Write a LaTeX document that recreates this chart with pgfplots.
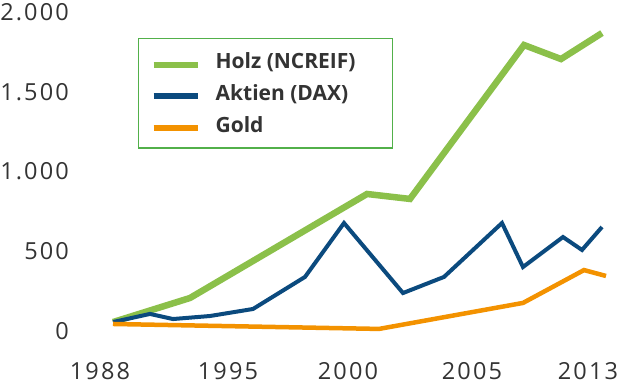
\documentclass[border=0pt]{standalone}
\usepackage{fontspec}
\setmainfont{Open Sans}
\newfontfamily\tickfont{Open Sans}[LetterSpace=9]
\usepackage{pgfplots}
\pgfplotsset{compat=1.18}
\definecolor{holz}{HTML}{8BC04A}
\definecolor{aktien}{HTML}{0B4A7E}
\definecolor{gold}{HTML}{F39200}
\definecolor{legbox}{HTML}{52B04A}
\definecolor{txt}{HTML}{333333}
\begin{document}
\begin{tikzpicture}
\useasboundingbox (0,0) rectangle (630bp,384bp);
\begin{axis}[
  at={(100bp,53bp)}, anchor=south west,
  scale only axis, width=512bp, height=319bp,
  xmin=100, xmax=612, ymin=0, ymax=2000,
  clip=false,
  axis line style={draw=none},
  major tick length=0pt,
  tick style={draw=none},
  xtick={100,228,348,472,588},
  xticklabels={1988,1995,2000,2005,2013},
  ytick={0,500,1000,1500,2000},
  yticklabels={0,500,1.000,1.500,2.000},
  xticklabel style={anchor=north, inner sep=0pt, yshift=-31bp, font=\tickfont\fontsize{23.5bp}{24bp}\selectfont, text=txt},
  yticklabel style={anchor=east, inner sep=0pt, xshift=-31bp, font=\tickfont\fontsize{23.5bp}{24bp}\selectfont, text=txt},
  legend cell align=left,
  legend image code/.code={\draw[#1, line width=6bp] (0bp,-3bp) -- (44bp,-3bp);},
  legend style={at={(0.0742,0.918)}, anchor=north west, draw=legbox, line width=1.3bp,
    font=\bfseries\fontsize{21bp}{22bp}\selectfont, text=txt,
    inner xsep=12bp, inner ysep=12bp, row sep=10.5bp,
    /tikz/every odd column/.style={column sep=13bp}},
]
\addplot[holz, line width=6.5bp, line join=miter] coordinates {
 (113,56) (190,207) (367,859) (410,828) (524,1793) (561,1705) (602,1868)};
\addlegendentry{Holz (NCREIF)\hspace*{23bp}}
\addplot[aktien, line width=4bp, line join=miter] coordinates {
 (113,56) (150,107) (173,75) (210,94) (253,138) (305,339) (344,677) (403,238)
 (444,339) (502,677) (523,401) (563,589) (582,508) (602,652)};
\addlegendentry{Aktien (DAX)}
\addplot[gold, line width=4.5bp, line join=miter] coordinates {
 (113,44) (379,13) (523,176) (584,382) (606,345)};
\addlegendentry{Gold}
\end{axis}
\end{tikzpicture}
\end{document}
